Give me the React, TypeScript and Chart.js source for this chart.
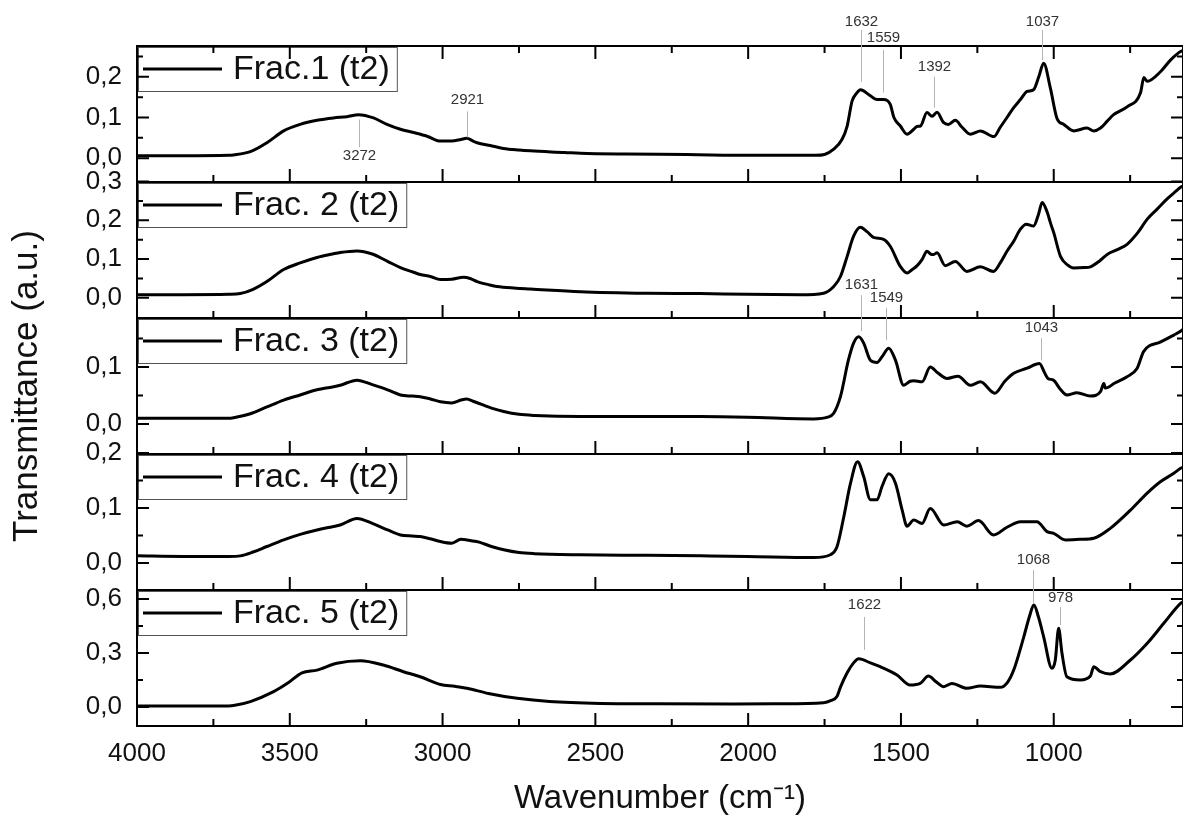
import { useEffect, useRef } from "react";
import { Chart, registerables } from "chart.js";

Chart.register(...registerables);

const FONT = "'Liberation Sans', Arial, Helvetica, sans-serif";

// ---- data (wavenumber cm-1, transmittance a.u.) ----
const FRAC_1: [number, number][] = [
  [4000, 0.006], [3850, 0.006], [3700, 0.007], [3684, 0.008], [3629, 0.016], [3575, 0.038], [3520, 0.067], [3466, 0.083],
  [3411, 0.093], [3357, 0.099], [3313, 0.102], [3275, 0.107], [3226, 0.099], [3182, 0.083], [3138, 0.071], [3095, 0.063],
  [3051, 0.054], [3007, 0.042], [2970, 0.042], [2940, 0.046], [2921, 0.049], [2900, 0.042], [2887, 0.038], [2844, 0.031],
  [2801, 0.024], [2750, 0.020], [2713, 0.018], [2600, 0.014], [2549, 0.012], [2400, 0.010], [2200, 0.009], [2000, 0.007],
  [1850, 0.007], [1780, 0.007], [1750, 0.009], [1720, 0.022], [1693, 0.046], [1676, 0.079], [1660, 0.140], [1645, 0.160],
  [1632, 0.168], [1605, 0.156], [1578, 0.144], [1557, 0.144], [1535, 0.132], [1523, 0.100], [1502, 0.079], [1480, 0.059],
  [1458, 0.071], [1447, 0.078], [1436, 0.079], [1415, 0.112], [1398, 0.103], [1382, 0.113], [1361, 0.088], [1345, 0.083],
  [1322, 0.093], [1300, 0.076], [1273, 0.059], [1240, 0.067], [1196, 0.053], [1175, 0.076], [1153, 0.100], [1131, 0.124],
  [1109, 0.144], [1087, 0.164], [1066, 0.168], [1049, 0.200], [1033, 0.233], [1011, 0.172], [989, 0.097], [967, 0.083],
  [935, 0.067], [891, 0.074], [869, 0.067], [847, 0.074], [825, 0.091], [804, 0.107], [760, 0.126], [716, 0.161],
  [705, 0.198], [694, 0.189], [650, 0.213], [618, 0.241], [585, 0.262], [577, 0.264],
];

const FRAC_2: [number, number][] = [
  [4000, 0.008], [3850, 0.008], [3700, 0.009], [3662, 0.011], [3620, 0.022], [3575, 0.042], [3520, 0.073], [3466, 0.090],
  [3411, 0.104], [3360, 0.113], [3335, 0.117], [3280, 0.121], [3230, 0.113], [3180, 0.094], [3138, 0.078], [3095, 0.066],
  [3073, 0.060], [3040, 0.055], [3007, 0.047], [2970, 0.048], [2931, 0.053], [2910, 0.050], [2887, 0.042], [2850, 0.034],
  [2822, 0.029], [2760, 0.025], [2713, 0.023], [2549, 0.016], [2330, 0.012], [2156, 0.011], [2003, 0.009], [1829, 0.008],
  [1753, 0.012], [1720, 0.029], [1698, 0.055], [1676, 0.107], [1655, 0.159], [1633, 0.182], [1610, 0.170], [1590, 0.156],
  [1557, 0.151], [1535, 0.133], [1502, 0.081], [1480, 0.064], [1465, 0.072], [1447, 0.083], [1430, 0.100], [1415, 0.120],
  [1400, 0.112], [1393, 0.112], [1382, 0.116], [1355, 0.083], [1322, 0.094], [1284, 0.068], [1240, 0.080], [1197, 0.068],
  [1175, 0.090], [1153, 0.120], [1131, 0.146], [1109, 0.177], [1090, 0.190], [1066, 0.185], [1050, 0.215], [1038, 0.246],
  [1021, 0.220], [1011, 0.194], [1000, 0.168], [978, 0.107], [955, 0.085], [935, 0.077], [900, 0.078], [880, 0.080],
  [850, 0.095], [825, 0.112], [790, 0.125], [760, 0.138], [725, 0.168], [694, 0.203], [660, 0.230], [629, 0.255],
  [600, 0.275], [585, 0.285], [577, 0.288],
];

const FRAC_3: [number, number][] = [
  [4000, 0.010], [3850, 0.010], [3700, 0.010], [3684, 0.011], [3629, 0.018], [3575, 0.030], [3520, 0.042], [3466, 0.051],
  [3411, 0.060], [3360, 0.065], [3335, 0.068], [3280, 0.077], [3230, 0.069], [3180, 0.060], [3138, 0.051], [3100, 0.049],
  [3073, 0.048], [3040, 0.044], [3007, 0.039], [2970, 0.037], [2940, 0.042], [2921, 0.044], [2900, 0.040], [2870, 0.034],
  [2840, 0.028], [2800, 0.022], [2750, 0.017], [2700, 0.015], [2549, 0.013], [2330, 0.013], [2156, 0.013], [2003, 0.012],
  [1786, 0.009], [1740, 0.012], [1720, 0.019], [1698, 0.048], [1672, 0.112], [1655, 0.142], [1638, 0.153], [1622, 0.142],
  [1600, 0.112], [1578, 0.108], [1562, 0.118], [1540, 0.133], [1518, 0.112], [1491, 0.068], [1470, 0.075], [1458, 0.076],
  [1431, 0.074], [1404, 0.100], [1380, 0.090], [1349, 0.080], [1313, 0.084], [1273, 0.068], [1240, 0.074], [1193, 0.054],
  [1160, 0.075], [1131, 0.089], [1087, 0.098], [1047, 0.106], [1030, 0.090], [1019, 0.080], [1001, 0.077], [980, 0.062],
  [957, 0.051], [924, 0.055], [880, 0.049], [847, 0.057], [836, 0.071], [831, 0.063], [800, 0.072], [760, 0.083],
  [727, 0.098], [706, 0.127], [650, 0.144], [607, 0.156], [579, 0.165], [577, 0.166],
];

const FRAC_4: [number, number][] = [
  [4000, 0.013], [3850, 0.012], [3700, 0.012], [3662, 0.013], [3620, 0.020], [3575, 0.030], [3520, 0.042], [3466, 0.052],
  [3411, 0.060], [3360, 0.066], [3335, 0.069], [3280, 0.081], [3230, 0.072], [3180, 0.060], [3138, 0.051], [3100, 0.049],
  [3073, 0.048], [3040, 0.044], [3007, 0.039], [2970, 0.036], [2940, 0.043], [2921, 0.042], [2900, 0.040], [2880, 0.038],
  [2840, 0.030], [2800, 0.024], [2750, 0.019], [2700, 0.017], [2549, 0.015], [2330, 0.014], [2156, 0.013], [2003, 0.012],
  [1786, 0.010], [1731, 0.015], [1709, 0.030], [1687, 0.084], [1665, 0.145], [1642, 0.184], [1622, 0.157], [1600, 0.115],
  [1578, 0.115], [1562, 0.139], [1540, 0.162], [1518, 0.145], [1496, 0.096], [1480, 0.067], [1458, 0.078], [1431, 0.072],
  [1404, 0.099], [1360, 0.069], [1316, 0.075], [1284, 0.067], [1246, 0.077], [1197, 0.051], [1153, 0.065], [1109, 0.075],
  [1055, 0.075], [1022, 0.057], [1000, 0.054], [962, 0.042], [913, 0.043], [869, 0.045], [815, 0.063], [749, 0.096],
  [694, 0.127], [650, 0.148], [607, 0.163], [585, 0.172], [577, 0.174],
];

const FRAC_5: [number, number][] = [
  [4000, 0.005], [3850, 0.005], [3700, 0.006], [3684, 0.008], [3629, 0.030], [3553, 0.085], [3509, 0.130], [3460, 0.190],
  [3411, 0.205], [3346, 0.243], [3269, 0.257], [3194, 0.233], [3128, 0.196], [3073, 0.168], [3007, 0.125], [2960, 0.115],
  [2920, 0.104], [2850, 0.075], [2756, 0.048], [2650, 0.030], [2483, 0.020], [2300, 0.018], [2048, 0.017], [1900, 0.018],
  [1753, 0.024], [1730, 0.035], [1709, 0.060], [1698, 0.110], [1676, 0.190], [1655, 0.245], [1638, 0.268], [1600, 0.245],
  [1568, 0.224], [1513, 0.178], [1470, 0.122], [1437, 0.131], [1410, 0.172], [1385, 0.140], [1360, 0.113], [1333, 0.131],
  [1284, 0.104], [1240, 0.117], [1175, 0.109], [1150, 0.140], [1131, 0.205], [1098, 0.390], [1080, 0.500], [1065, 0.567],
  [1050, 0.500], [1033, 0.390], [1006, 0.215], [995, 0.260], [984, 0.437], [973, 0.298], [957, 0.168], [913, 0.150],
  [880, 0.172], [869, 0.224], [847, 0.196], [815, 0.183], [749, 0.261], [694, 0.354], [640, 0.465], [585, 0.576],
  [577, 0.585],
];

const SERIES = [FRAC_1, FRAC_2, FRAC_3, FRAC_4, FRAC_5];
const LABELS = ["Frac.1 (t2)", "Frac. 2 (t2)", "Frac. 3 (t2)", "Frac. 4 (t2)", "Frac. 5 (t2)"];

// ---- axes ----
const X_MIN = 577;
const X_MAX = 4000;
const X_TICKS = [4000, 3500, 3000, 2500, 2000, 1500, 1000];
const X_MINOR = [3750, 3250, 2750, 2250, 1750, 1250, 750];

const Y_MIN = [-0.0585, -0.052, -0.0526, -0.049, -0.1056];
const Y_MAX = [0.2756, 0.2987, 0.186, 0.198, 0.65];
const Y_TICKS = [[0, 0.1, 0.2], [0, 0.1, 0.2, 0.3], [0, 0.1], [0, 0.1, 0.2], [0, 0.3, 0.6]];
const Y_MINOR = [[0.05, 0.15, 0.25], [0.05, 0.15, 0.25], [0.05, 0.15], [0.05, 0.15], [0.15, 0.45]];

// ---- peak annotations ----
const PEAK_PANEL = [0, 0, 0, 0, 0, 0, 2, 2, 2, 4, 4, 4];
const PEAK_WN = [3272, 2921, 1632, 1559, 1392, 1037, 1631, 1549, 1043, 1622, 1068, 978];
// label placement in panel units: [text centre, line top, line bottom]
const PEAK_PLACE = [
  [0.005, 0.095, 0.027], [0.144, 0.115, 0.051], [0.334, 0.315, 0.188], [0.295, 0.266, 0.161],
  [0.224, 0.2, 0.124], [0.334, 0.315, 0.241], [0.244, 0.226, 0.163], [0.221, 0.204, 0.147],
  [0.168, 0.151, 0.112], [0.567, 0.5, 0.317], [0.817, 0.761, 0.578], [0.606, 0.556, 0.456],
];

const yId = (k: number) => "y" + (k + 1);

const decorPlugin = {
  id: "decor",
  afterDatasetsDraw(chart: any) {
    const ctx = chart.ctx as CanvasRenderingContext2D;
    const { left } = chart.chartArea;
    ctx.save();
    ctx.font = `34px ${FONT}`;
    LABELS.forEach((lab, k) => {
      const ys = chart.scales[yId(k)];
      const top = ys.top + 1;
      const h = 44;
      const textX = left + 96;
      const tw = ctx.measureText(lab).width;
      const x0 = left + 1;
      const x1 = textX + tw + 7;
      ctx.fillStyle = "#ffffff";
      ctx.fillRect(x0, top, x1 - x0, h);
      ctx.strokeStyle = "#555555";
      ctx.lineWidth = 1;
      ctx.strokeRect(x0 + 0.5, top + 0.5, x1 - x0, h);
      ctx.strokeStyle = "#000000";
      ctx.lineWidth = 3;
      ctx.beginPath();
      ctx.moveTo(left + 6, top + h / 2);
      ctx.lineTo(left + 85, top + h / 2);
      ctx.stroke();
      ctx.fillStyle = "#111111";
      ctx.textBaseline = "middle";
      ctx.textAlign = "left";
      ctx.fillText(lab, textX, top + h / 2 + 1);
    });
    ctx.restore();
  },
  afterDraw(chart: any) {
    const ctx = chart.ctx as CanvasRenderingContext2D;
    const xs = chart.scales.x;
    const { left, right } = chart.chartArea;
    ctx.save();
    ctx.strokeStyle = "#000000";
    ctx.lineWidth = 2;
    for (let k = 0; k < 5; k++) {
      const ys = chart.scales[yId(k)];
      const top = ys.top;
      const bottom = ys.bottom;
      ctx.strokeRect(left, top, right - left, bottom - top);
      ctx.beginPath();
      X_TICKS.forEach((v) => {
        const px = xs.getPixelForValue(v);
        ctx.moveTo(px, bottom);
        ctx.lineTo(px, bottom - 13);
        if (k === 0) {
          ctx.moveTo(px, top);
          ctx.lineTo(px, top + 13);
        }
      });
      X_MINOR.forEach((v) => {
        const px = xs.getPixelForValue(v);
        ctx.moveTo(px, bottom);
        ctx.lineTo(px, bottom - 7);
        if (k === 0) {
          ctx.moveTo(px, top);
          ctx.lineTo(px, top + 7);
        }
      });
      Y_TICKS[k].forEach((v) => {
        const py = ys.getPixelForValue(v);
        ctx.moveTo(left, py);
        ctx.lineTo(left + 12, py);
        ctx.moveTo(right, py);
        ctx.lineTo(right - 12, py);
      });
      Y_MINOR[k].forEach((v) => {
        const py = ys.getPixelForValue(v);
        ctx.moveTo(left, py);
        ctx.lineTo(left + 6, py);
        ctx.moveTo(right, py);
        ctx.lineTo(right - 6, py);
      });
      ctx.stroke();
    }
    // peak annotations
    ctx.font = `15px ${FONT}`;
    ctx.textAlign = "center";
    ctx.textBaseline = "middle";
    PEAK_WN.forEach((wn, i) => {
      const ys = chart.scales[yId(PEAK_PANEL[i])];
      const [tv, l0, l1] = PEAK_PLACE[i];
      const px = Math.round(xs.getPixelForValue(wn)) + 0.5;
      ctx.strokeStyle = "#b4b4b4";
      ctx.lineWidth = 1;
      ctx.beginPath();
      ctx.moveTo(px, ys.getPixelForValue(l0));
      ctx.lineTo(px, ys.getPixelForValue(l1));
      ctx.stroke();
      ctx.fillStyle = "#333333";
      ctx.fillText(String(wn), px, ys.getPixelForValue(tv));
    });
    ctx.restore();
  },
};

export default function App() {
  const ref = useRef<HTMLCanvasElement>(null);

  useEffect(() => {
    const yScales: any = {};
    for (let k = 0; k < 5; k++) {
      yScales[yId(k)] = {
        type: "linear",
        position: "left",
        stack: "panels",
        stackWeight: 1,
        weight: 5 - k,
        min: Y_MIN[k],
        max: Y_MAX[k],
        afterBuildTicks: (s: any) => {
          s.ticks = Y_TICKS[k].map((v) => ({ value: v }));
        },
        afterFit: (s: any) => {
          s.width = 137;
        },
        grid: { display: false, drawTicks: false },
        border: { display: false },
        ticks: {
          autoSkip: false,
          padding: 15,
          color: "#111111",
          font: { family: FONT, size: 26 },
          callback: (v: any) => Number(v).toFixed(1).replace(".", ","),
        },
        title:
          k === 2
            ? {
                display: true,
                text: "Transmittance (a.u.)",
                color: "#111111",
                font: { family: FONT, size: 35 },
                padding: { top: 6, bottom: 0 },
              }
            : { display: false },
      };
    }

    const chart = new Chart(ref.current as HTMLCanvasElement, {
      type: "line",
      data: {
        datasets: SERIES.map((s, k) => ({
          label: LABELS[k],
          data: s.map(([x, y]) => ({ x, y })),
          xAxisID: "x",
          yAxisID: yId(k),
          borderColor: "#000000",
          borderWidth: 3,
          pointRadius: 0,
          fill: false,
          cubicInterpolationMode: "monotone" as const,
        })),
      },
      options: {
        responsive: false,
        animation: false,
        devicePixelRatio: 1,
        layout: { padding: { top: 46, left: 0, right: 0, bottom: 0 } },
        plugins: { legend: { display: false }, tooltip: { enabled: false } },
        scales: {
          x: {
            type: "linear",
            reverse: true,
            min: X_MIN,
            max: X_MAX,
            afterBuildTicks: (s: any) => {
              s.ticks = X_TICKS.map((v) => ({ value: v }));
            },
            afterFit: (s: any) => {
              s.height = 93;
            },
            grid: { display: false, drawTicks: false },
            border: { display: false },
            ticks: {
              autoSkip: false,
              maxRotation: 0,
              padding: 12,
              color: "#111111",
              font: { family: FONT, size: 26 },
              callback: (v: any) => String(v),
            },
            title: {
              display: true,
              text: "Wavenumber (cm\u207B\u00B9)",
              color: "#111111",
              font: { family: FONT, size: 33 },
              padding: { top: 0, bottom: 0 },
            },
          },
          ...yScales,
        },
      },
      plugins: [decorPlugin],
    } as any);
    return () => chart.destroy();
  }, []);

  return (
    <div
      style={{
        position: "absolute",
        left: 0,
        top: 0,
        width: 1183,
        height: 819,
        overflow: "hidden",
        background: "#ffffff",
      }}
    >
      <canvas ref={ref} width={1183} height={819} style={{ display: "block" }} />
    </div>
  );
}
